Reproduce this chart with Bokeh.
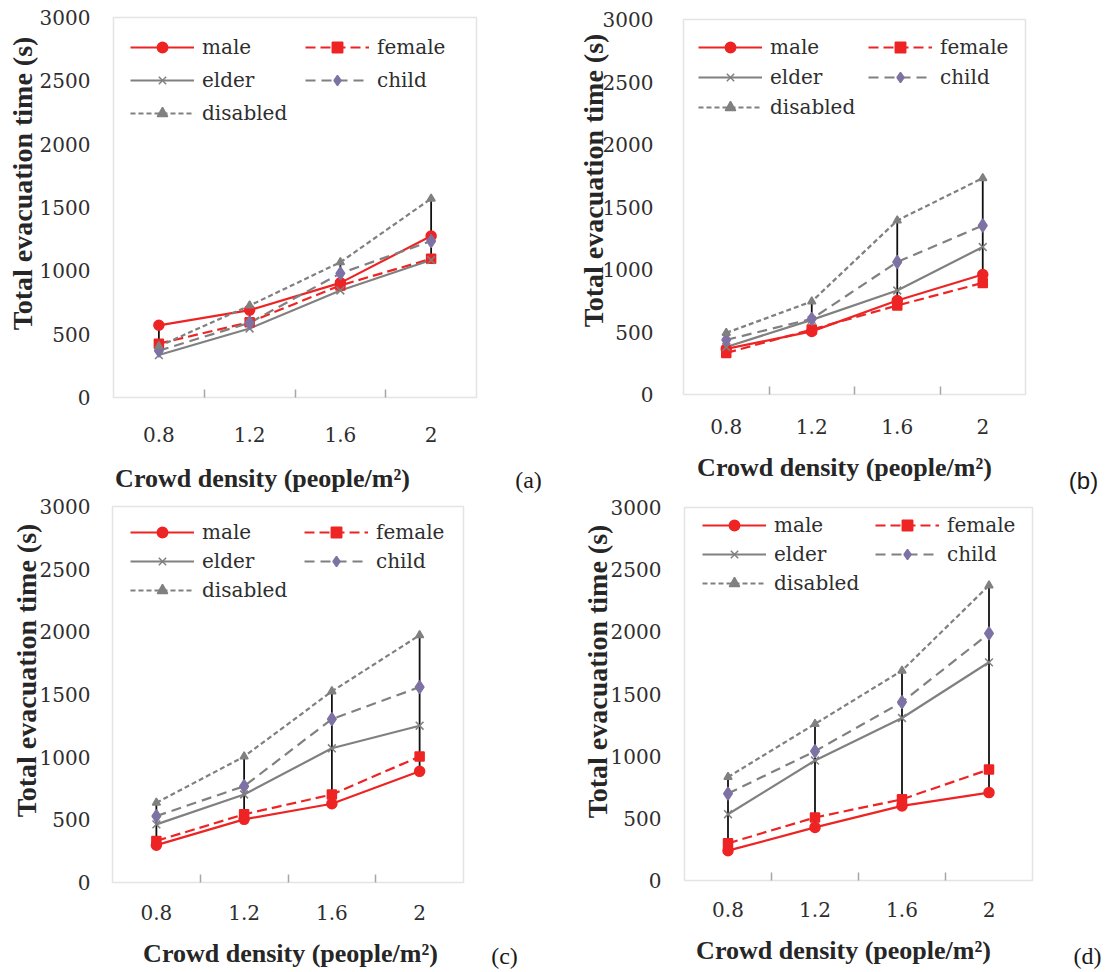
import numpy as np
from bokeh.plotting import figure
from bokeh.models import Range1d, FixedTicker, Legend, LegendItem, Label, BoxAnnotation
from bokeh.layouts import column, row
from bokeh.embed import file_html
from bokeh.resources import INLINE

# ---------------- data ----------------
density = [0.8, 1.2, 1.6, 2.0]
density_labels = ["0.8", "1.2", "1.6", "2"]
y_ticks = [0, 500, 1000, 1500, 2000, 2500, 3000]
series_names = ["male", "female", "elder", "child", "disabled"]

# panel (a)
male_a = [570, 690, 905, 1275]
female_a = [425, 595, 885, 1095]
elder_a = [335, 545, 845, 1085]
child_a = [370, 590, 980, 1235]
disabled_a = [405, 726, 1068, 1570]

# panel (b)
male_b = [365, 505, 752, 960]
female_b = [332, 520, 712, 893]
elder_b = [380, 597, 832, 1180]
child_b = [437, 605, 1060, 1352]
disabled_b = [493, 744, 1392, 1731]

# panel (c)
male_c = [298, 504, 628, 887]
female_c = [332, 544, 702, 1005]
elder_c = [464, 702, 1071, 1251]
child_c = [530, 768, 1304, 1559]
disabled_c = [636, 1005, 1525, 1973]

# panel (d)
male_d = [240, 427, 600, 707]
female_d = [299, 507, 653, 893]
elder_d = [533, 965, 1307, 1755]
child_d = [699, 1040, 1435, 1987]
disabled_d = [832, 1259, 1688, 2373]

panel_data = {
    "a": [male_a, female_a, elder_a, child_a, disabled_a],
    "b": [male_b, female_b, elder_b, child_b, disabled_b],
    "c": [male_c, female_c, elder_c, child_c, disabled_c],
    "d": [male_d, female_d, elder_d, child_d, disabled_d],
}

x_title = "Crowd density (people/m²)"
y_title = "Total evacuation time (s)"

# ---------------- styles ----------------
RED = "#EE2424"
GRAY = "#808080"
PURPLE = "#7E72A4"
TXT = "#2e2e2e"
SERIF = "'Liberation Serif', 'Times New Roman', serif"
SANS = "'Liberation Sans', Arial, sans-serif"
AX_FONT = "DejaVu Serif"
AX_SIZE = "20px"

styles = {
    "male": dict(color=RED, dash="solid", marker="circle", msize=10, mfill=RED, mline=RED, lw=2.2),
    "female": dict(color=RED, dash="10 5", marker="square", msize=9, mfill=RED, mline=RED, lw=2.2),
    "elder": dict(color=GRAY, dash="solid", marker="x", msize=11, mfill=GRAY, mline=GRAY, lw=2.2),
    "child": dict(color=GRAY, dash="10 6", marker="diamond", msize=13, mfill=PURPLE, mline=PURPLE, lw=2.2),
    "disabled": dict(color=GRAY, dash="5 3", marker="triangle", msize=8, mfill=GRAY, mline=GRAY, lw=2.2),
}

# page geometry (pixels): figure origin/size, plot box, text anchors
geom = {
    "a": dict(fig=(0, 0, 578, 493), box=(113, 17, 476, 397), xs=29, ys=23,
              yt=(22, 183), xt=(262, 478), pl=(528, 479), pfont=SERIF,
              lg=(17, 17, 7, 192)),
    "b": dict(fig=(578, 0, 530, 494), box=(683, 19, 1025, 394), xs=24, ys=30,
              yt=(593, 180), xt=(844, 467), pl=(1083, 480), pfont=SANS,
              lg=(15, 15, 4, 185)),
    "c": dict(fig=(0, 493, 578, 477), box=(112, 506, 463, 882), xs=22, ys=22,
              yt=(26, 670), xt=(290, 953), pl=(504, 955), pfont=SERIF,
              lg=(18, 13, 3, 192)),
    "d": dict(fig=(578, 494, 530, 476), box=(684, 507, 1032, 880), xs=21, ys=23,
              yt=(597, 671), xt=(843, 950), pl=(1087, 955), pfont=SERIF,
              lg=(18, 5, 3, 191)),
}


def make_panel(key):
    g = geom[key]
    vals = panel_data[key]
    ox, oy, W, H = g["fig"]
    L, T, R, B = g["box"][0] - ox, g["box"][1] - oy, g["box"][2] - ox, g["box"][3] - oy
    step = density[1] - density[0]
    x0, x1 = density[0] - step / 2, density[-1] + step / 2
    y0, y1 = y_ticks[0], y_ticks[-1]
    ux = (x1 - x0) / (R - L)
    uy = (y1 - y0) / (B - T)
    p = figure(frame_width=W, frame_height=H, min_border=0,
               min_border_left=0, min_border_right=0, min_border_top=0, min_border_bottom=0,
               x_range=Range1d(x0 - L * ux, x1 + (W - R) * ux),
               y_range=Range1d(y0 - (H - B) * uy, y1 + T * uy),
               output_backend="svg", toolbar_location=None, tools="")
    p.background_fill_color = "white"
    p.border_fill_color = "white"
    p.outline_line_color = None
    p.xgrid.visible = False
    p.ygrid.visible = False

    # plot box
    p.add_layout(BoxAnnotation(left=x0, right=x1, bottom=y0, top=y1,
                               fill_alpha=0, fill_color=None,
                               line_color="#A6A6A6", line_width=1.5))

    mids = [(a + b) / 2 for a, b in zip(density[:-1], density[1:])]
    xa = p.xaxis[0]
    xa.fixed_location = y0
    xa.bounds = (x0, x1)
    xa.ticker = FixedTicker(ticks=density, minor_ticks=mids)
    xa.major_label_overrides = dict(zip(density, density_labels))
    xa.axis_line_color = None
    xa.major_tick_line_color = None
    xa.major_tick_in = 0
    xa.major_tick_out = 0
    xa.minor_tick_line_color = "#A6A6A6"
    xa.minor_tick_line_width = 1.5
    xa.minor_tick_in = 8
    xa.minor_tick_out = 0
    xa.major_label_standoff = g["xs"]
    xa.major_label_text_font = AX_FONT
    xa.major_label_text_font_size = AX_SIZE
    xa.major_label_text_color = TXT

    ya = p.yaxis[0]
    ya.fixed_location = x0
    ya.bounds = (y0, y1)
    ya.ticker = FixedTicker(ticks=y_ticks)
    ya.axis_line_color = None
    ya.major_tick_line_color = None
    ya.minor_tick_line_color = None
    ya.major_tick_in = 0
    ya.major_tick_out = 0
    ya.major_label_standoff = g["ys"]
    ya.major_label_text_font = AX_FONT
    ya.major_label_text_font_size = AX_SIZE
    ya.major_label_text_color = TXT

    # lines
    line_r = {}
    for name, v in zip(series_names, vals):
        s = styles[name]
        line_r[name] = p.line(density, v, line_color=s["color"], line_width=s["lw"],
                              line_dash=s["dash"])
    # high-low lines
    arr = np.array(vals)
    p.segment(x0=density, y0=arr.min(axis=0), x1=density, y1=arr.max(axis=0),
              line_color="#111111", line_width=1.8)
    # markers
    mark_r = {}
    for name, v in zip(series_names, vals):
        s = styles[name]
        mark_r[name] = p.scatter(density, v, marker=s["marker"], size=s["msize"],
                                 fill_color=s["mfill"], line_color=s["mline"],
                                 line_width=1.5)

    gx, top, spacing, rx = g["lg"]
    item_h = 26

    def mk_legend(names, xoff):
        n = len(names)
        h = n * item_h + (n - 1) * spacing
        lg = Legend(items=[LegendItem(label=nm, renderers=[line_r[nm], mark_r[nm]]) for nm in names],
                    location=(L + xoff, H - (T + top) - h))
        lg.padding = 0
        lg.margin = 0
        lg.spacing = spacing
        lg.glyph_width = 64
        lg.glyph_height = item_h
        lg.label_height = item_h
        lg.label_standoff = 8
        lg.label_text_font = AX_FONT
        lg.label_text_font_size = AX_SIZE
        lg.label_text_color = TXT
        lg.border_line_color = None
        lg.background_fill_alpha = 0
        return lg

    p.add_layout(mk_legend(["male", "elder", "disabled"], gx))
    p.add_layout(mk_legend(["female", "child"], rx))

    def sx(px):
        return px - ox

    def sy(py):
        return oy + H - py

    p.add_layout(Label(x=sx(g["yt"][0]), y=sy(g["yt"][1]), x_units="screen", y_units="screen",
                       text=y_title, angle=np.pi / 2,
                       text_align="center", text_baseline="middle",
                       text_font=SERIF, text_font_style="bold",
                       text_font_size="28px", text_color="#262626"))
    p.add_layout(Label(x=sx(g["xt"][0]), y=sy(g["xt"][1]), x_units="screen", y_units="screen",
                       text=x_title,
                       text_align="center", text_baseline="middle",
                       text_font=SERIF, text_font_style="bold",
                       text_font_size="26px", text_color="#262626"))
    p.add_layout(Label(x=sx(g["pl"][0]), y=sy(g["pl"][1]), x_units="screen", y_units="screen",
                       text="(" + key + ")",
                       text_align="center", text_baseline="middle",
                       text_font=g["pfont"], text_font_size="24px", text_color="#1a1a1a"))
    return p


pa, pb, pc, pd = (make_panel(k) for k in "abcd")
layout = row(column(pa, pc), column(pb, pd))
open("out.html", "w").write(file_html(layout, INLINE))
